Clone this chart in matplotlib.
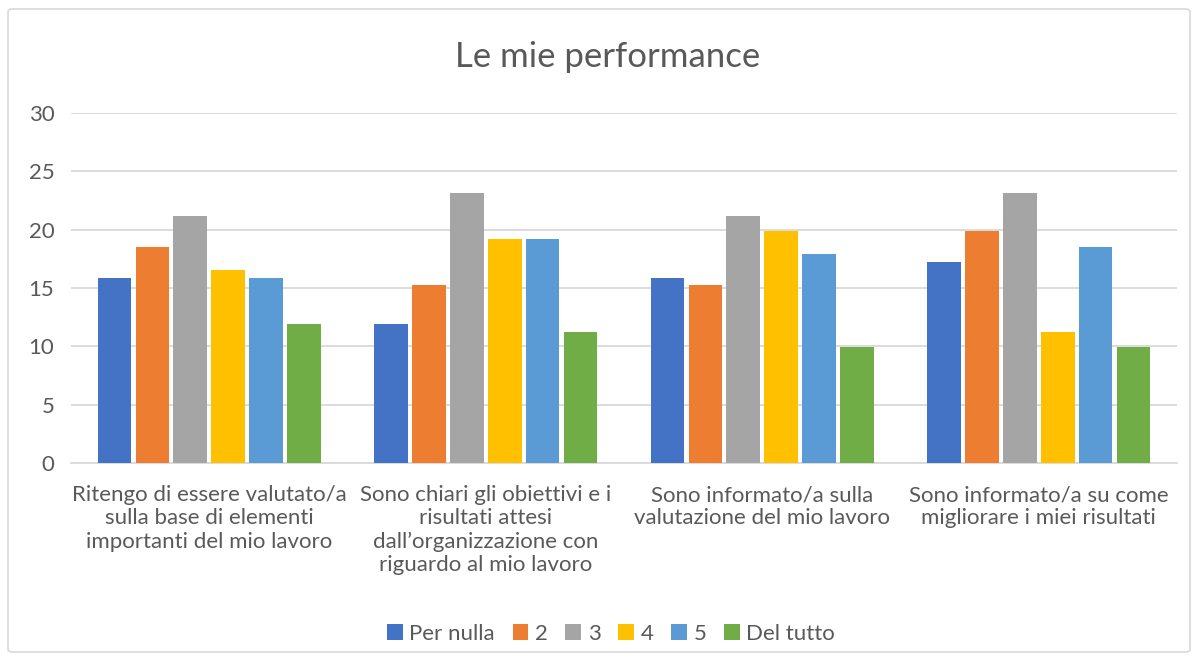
import matplotlib.pyplot as plt
from matplotlib.patches import FancyBboxPatch
import numpy as np

plt.rcParams['font.family'] = ['Lato', 'DejaVu Sans']

categories = [
    "Ritengo di essere valutato/a\nsulla base di elementi\nimportanti del mio lavoro",
    "Sono chiari gli obiettivi e i\nrisultati attesi\ndall\u2019organizzazione con\nriguardo al mio lavoro",
    "Sono informato/a sulla\nvalutazione del mio lavoro",
    "Sono informato/a su come\nmigliorare i miei risultati",
]
series_names = ["Per nulla", "2", "3", "4", "5", "Del tutto"]
per_nulla = [15.89, 11.92, 15.89, 17.22]
s2 = [18.54, 15.23, 15.23, 19.87]
s3 = [21.19, 23.18, 21.19, 23.18]
s4 = [16.56, 19.21, 19.87, 11.26]
s5 = [15.89, 19.21, 17.88, 18.54]
del_tutto = [11.92, 11.26, 9.93, 9.93]
values = [per_nulla, s2, s3, s4, s5, del_tutto]
colors = ['#4472C4', '#ED7D31', '#A5A5A5', '#FFC000', '#5B9BD5', '#70AD47']
yticks = [0, 5, 10, 15, 20, 25, 30]

text_col = '#595959'
grid_col = '#D9D9D9'

fig = plt.figure(figsize=(11.98, 6.64), dpi=100)
frame = FancyBboxPatch((8 / 1198, 12 / 664), 1182 / 1198, 643 / 664,
                       boxstyle="round,pad=0,rounding_size=0.004",
                       transform=fig.transFigure, facecolor='white',
                       edgecolor=grid_col, linewidth=1.2, zorder=-1)
fig.patches.append(frame)

ax = fig.add_axes([71 / 1198, 1 - 463 / 664, 1106 / 1198, 350 / 664])
ax.set_facecolor('none')

x = np.arange(len(categories))
pitch = 0.137
width = 0.122
for i, (name, vals, c) in enumerate(zip(series_names, values, colors)):
    offs = (i - 2.5) * pitch
    ax.bar(x + offs, vals, width=width, color=c, label=name, zorder=3)

ax.set_xlim(-0.5, len(categories) - 0.5)
ax.set_ylim(0, 30)
ax.set_yticks(yticks)
ax.set_xticks(x)
ax.set_xticklabels(categories, fontsize=16, color=text_col, linespacing=1.2)
ax.tick_params(axis='x', length=0, pad=16)
ax.tick_params(axis='y', length=0, pad=12, labelsize=16, labelcolor=text_col)
ax.grid(axis='y', color=grid_col, linewidth=1.3, zorder=0)
for s in ['top', 'right', 'left']:
    ax.spines[s].set_visible(False)
ax.spines['bottom'].set_color(grid_col)
ax.spines['bottom'].set_linewidth(1.3)

fig.text(0.507, 1 - 57 / 664, "Le mie performance", ha='center', va='center',
         fontsize=25, color=text_col)

fig.legend(loc='center', bbox_to_anchor=(611 / 1198, 1 - 634 / 664), ncol=6,
           frameon=False, fontsize=16, handlelength=0.7, handleheight=0.7,
           handletextpad=0.3, columnspacing=0.8, labelcolor=text_col)

fig.savefig('out.png', dpi=100)
